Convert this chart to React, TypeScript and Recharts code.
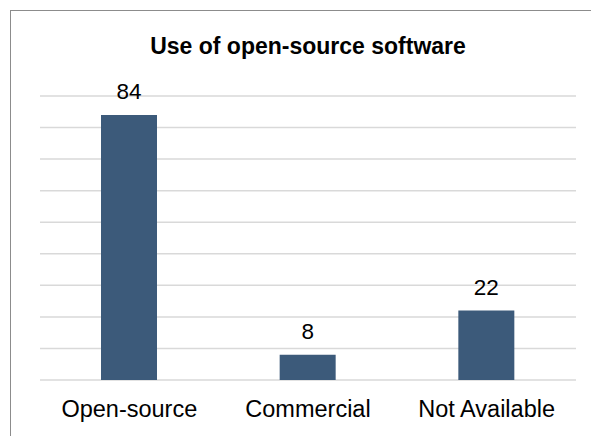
import * as React from "react"
import { Bar, BarChart, CartesianGrid, LabelList, XAxis, YAxis } from "recharts"

const categories = ["Open-source", "Commercial", "Not Available"]
const counts = [84, 8, 22]
const yTicks = [0, 10, 20, 30, 40, 50, 60, 70, 80, 90]

const data = categories.map((name, i) => ({ name, count: counts[i] }))

const font = "'Liberation Sans', Arial, sans-serif"

export default function App() {
  React.useEffect(() => {
    document.body.style.margin = "0"
  }, [])

  return (
    <div style={{ position: "relative", width: 591, height: 436, overflow: "hidden", fontFamily: font }}>
      <div
        style={{
          position: "absolute",
          left: 10,
          top: 10,
          width: 700,
          height: 600,
          borderLeft: "1.5px solid #8c8c8c",
          borderTop: "1.5px solid #8c8c8c",
        }}
      />
      <div
        style={{
          position: "absolute",
          left: 40,
          width: 536,
          top: 33,
          textAlign: "center",
          fontWeight: "bold",
          fontSize: 23,
          color: "#000",
        }}
      >
        Use of open-source software
      </div>
      <BarChart
        width={591}
        height={436}
        data={data}
        margin={{ top: 96, right: 15, bottom: 16, left: 40 }}
        style={{ position: "absolute", left: 0, top: 0 }}
      >
        <CartesianGrid vertical={false} stroke="#d9d9d9" strokeWidth={1.5} />
        <YAxis hide domain={[0, 90]} ticks={yTicks} />
        <XAxis
          dataKey="name"
          axisLine={false}
          tickLine={false}
          height={40}
          tickMargin={14}
          tick={{ fill: "#000", fontSize: 23.5, fontFamily: font }}
          interval={0}
        />
        <Bar dataKey="count" fill="#3c5a7a" barSize={56} isAnimationActive={false}>
          <LabelList
            dataKey="count"
            position="top"
            offset={16}
            fill="#000"
            fontSize={22.5}
            fontFamily={font}
          />
        </Bar>
      </BarChart>
    </div>
  )
}
